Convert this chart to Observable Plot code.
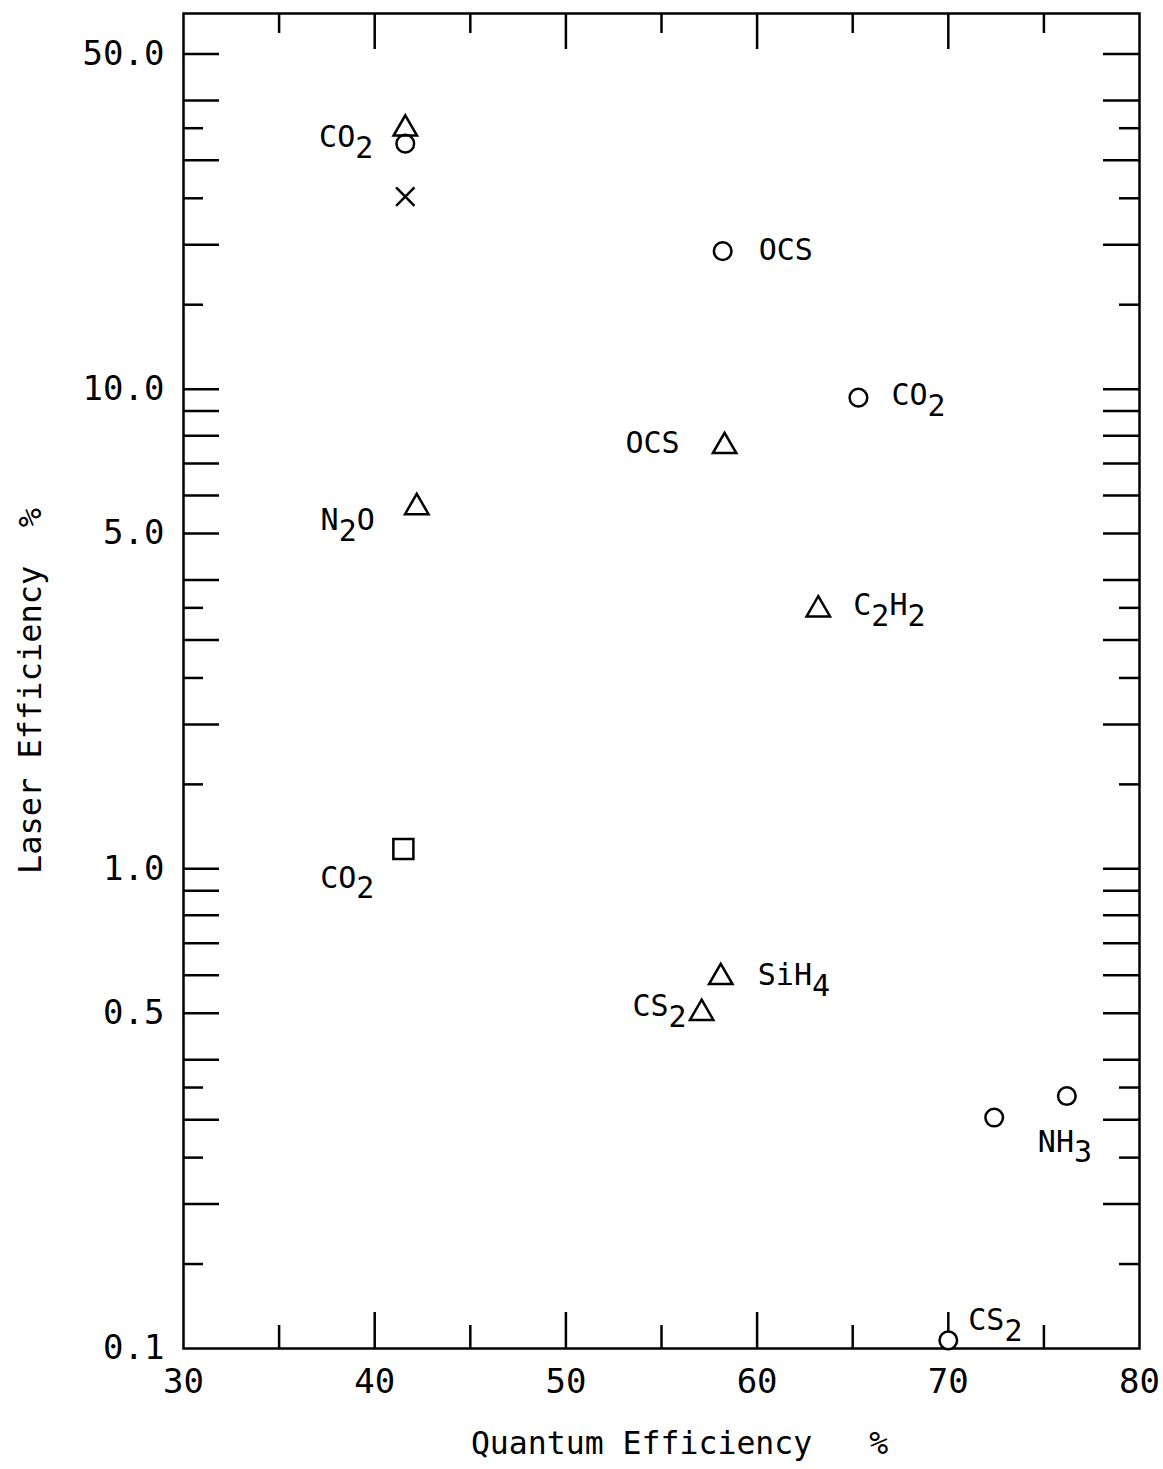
<!DOCTYPE html>
<html>
<head>
<meta charset="utf-8">
<script src="https://cdn.jsdelivr.net/npm/d3@7"></script>
<script src="https://cdn.jsdelivr.net/npm/@observablehq/plot@0.6"></script>
<style>
  body { margin: 0; background: #fff; }
  #chart svg { display: block; }
</style>
</head>
<body>
<div id="chart"></div>
<script>
// ---- data ----
const gases      = ["CO_2", "CO_2", "CO_2", "OCS", "CO_2", "OCS", "N_2O", "C_2H_2", "CO_2", "SiH_4", "CS_2", "NH_3", "NH_3", "CS_2"];
const quantumEff = [41.6,   41.6,   41.6,   58.2,  65.3,   58.3,  42.2,   63.2,     41.5,   58.1,    57.1,   72.4,   76.2,   70.0];
const laserEff   = [34.9,   32.5,   25.2,   19.4,  9.6,    7.6,   5.67,   3.47,     1.10,   0.594,   0.50,   0.303,  0.336,  0.104];
const symbols    = ["triangle", "circle", "times", "circle", "circle", "triangle", "triangle", "triangle", "square", "triangle", "triangle", "circle", "circle", "circle"];
const labeled    = [1, 3, 4, 5, 6, 7, 8, 9, 10, 12, 13];

const labelTicksY = [0.1, 0.5, 1, 5, 10, 50];
const longTicksY  = [0.2, 0.3, 0.4, 0.5, 0.6, 0.7, 0.8, 0.9, 1, 2, 3, 4, 5, 6, 7, 8, 9, 10, 20, 30, 40, 50];
const shortTicksY = [0.15, 0.25, 0.35, 1.5, 2.5, 3.5, 15, 25, 35];
const labelTicksX = [30, 40, 50, 60, 70, 80];
const longTicksX  = [40, 50, 60, 70];
const shortTicksX = [35, 45, 55, 65, 75];
const xTitle = "Quantum Efficiency   %";
const yTitle = "Laser Efficiency  %";

// ---- layout / style (not data) ----
const W = 1163, H = 1469;
const M = {top: 13, right: 24, bottom: 121, left: 183};
const frameW = W - M.left - M.right;
const frameH = H - M.top - M.bottom;
const LONG = 36, SHORT = 20;
const SW = 2.5;
const labelPlacement = {
  1:  {dx: -32, dy: -6,  anchor: "end"},
  3:  {dx: 36,  dy: -1,  anchor: "start"},
  4:  {dx: 33,  dy: -2,  anchor: "start"},
  5:  {dx: -45, dy: -3,  anchor: "end"},
  6:  {dx: -42, dy: 13,  anchor: "end"},
  7:  {dx: 35,  dy: -4,  anchor: "start"},
  8:  {dx: -29, dy: 29,  anchor: "end"},
  9:  {dx: 37,  dy: -2,  anchor: "start"},
  10: {dx: -15, dy: -7,  anchor: "end"},
  12: {dx: -29, dy: 46,  anchor: "start"},
  13: {dx: 20,  dy: -20, anchor: "start"}
};
const symbolR = {circle: 8.8, triangle: 8.7, square: 11.3, times: 8.4};

const points = gases.map((g, i) => ({gas: g, q: quantumEff[i], l: laserEff[i], symbol: symbols[i]}));

const dotMark = (sym, fill) => Plot.dot(points.filter(d => d.symbol === sym), {
  x: "q", y: "l", symbol: sym, r: symbolR[sym], stroke: "black", strokeWidth: SW, fill
});

const plot = Plot.plot({
  width: W, height: H,
  marginTop: M.top, marginRight: M.right, marginBottom: M.bottom, marginLeft: M.left,
  style: {fontFamily: "'DejaVu Sans Mono', monospace", fontSize: "30px", background: "white", color: "black"},
  x: {type: "linear", domain: [30, 80], axis: null},
  y: {type: "log", domain: [0.1, 60.7], axis: null},
  marks: [
    // inward ticks, left / right
    Plot.tickY(longTicksY,  {y: d => d, insetRight: frameW - LONG,  stroke: "black", strokeWidth: SW}),
    Plot.tickY(shortTicksY, {y: d => d, insetRight: frameW - SHORT, stroke: "black", strokeWidth: SW}),
    Plot.tickY(longTicksY,  {y: d => d, insetLeft: frameW - LONG,   stroke: "black", strokeWidth: SW}),
    Plot.tickY(shortTicksY, {y: d => d, insetLeft: frameW - SHORT,  stroke: "black", strokeWidth: SW}),
    // inward ticks, bottom / top
    Plot.tickX(longTicksX,  {x: d => d, insetTop: frameH - LONG,      stroke: "black", strokeWidth: SW}),
    Plot.tickX(shortTicksX, {x: d => d, insetTop: frameH - SHORT - 3, stroke: "black", strokeWidth: SW}),
    Plot.tickX(longTicksX,  {x: d => d, insetBottom: frameH - LONG,   stroke: "black", strokeWidth: SW}),
    Plot.tickX(shortTicksX, {x: d => d, insetBottom: frameH - SHORT,  stroke: "black", strokeWidth: SW}),
    Plot.frame({stroke: "black", strokeWidth: SW}),
    // tick labels
    Plot.text(labelTicksY, {y: d => d, text: d => d.toFixed(1), frameAnchor: "left", textAnchor: "end", dx: -19, fontSize: 34}),
    Plot.text(labelTicksX, {x: d => d, text: d => String(d), frameAnchor: "bottom", lineAnchor: "top", dy: 20, fontSize: 34}),
    // axis titles
    Plot.text([xTitle], {text: d => d, frameAnchor: "bottom", textAnchor: "middle", lineAnchor: "bottom", dx: 18, dy: 105, fontSize: 31.5}),
    Plot.text([yTitle], {text: d => d, frameAnchor: "left", textAnchor: "middle", lineAnchor: "middle", rotate: -90, dx: -153, dy: 10, fontSize: 32}),
    // points
    dotMark("circle", "white"),
    dotMark("square", "none"),
    dotMark("times", "none"),
    dotMark("triangle", "none"),
    // point labels
    ...labeled.map(i => {
      const p = labelPlacement[i];
      return Plot.text([points[i]], {x: "q", y: "l", text: d => d.gas, dx: p.dx, dy: p.dy, textAnchor: p.anchor, fontSize: 30});
    })
  ]
});

// render "_n" as lowered subscripts
const svgns = "http://www.w3.org/2000/svg";
d3.select(plot).selectAll("text").each(function() {
  const t = this.textContent;
  if (!t || !t.includes("_")) return;
  const parts = t.split(/_(\d)/);
  this.textContent = "";
  let shifted = false;
  parts.forEach((p, k) => {
    if (!p) return;
    const ts = document.createElementNS(svgns, "tspan");
    const sub = k % 2 === 1;
    if (sub && !shifted) { ts.setAttribute("dy", "0.36em"); shifted = true; }
    else if (!sub && shifted) { ts.setAttribute("dy", "-0.36em"); shifted = false; }
    ts.textContent = p;
    this.appendChild(ts);
  });
});

document.getElementById("chart").appendChild(plot);
</script>
</body>
</html>
